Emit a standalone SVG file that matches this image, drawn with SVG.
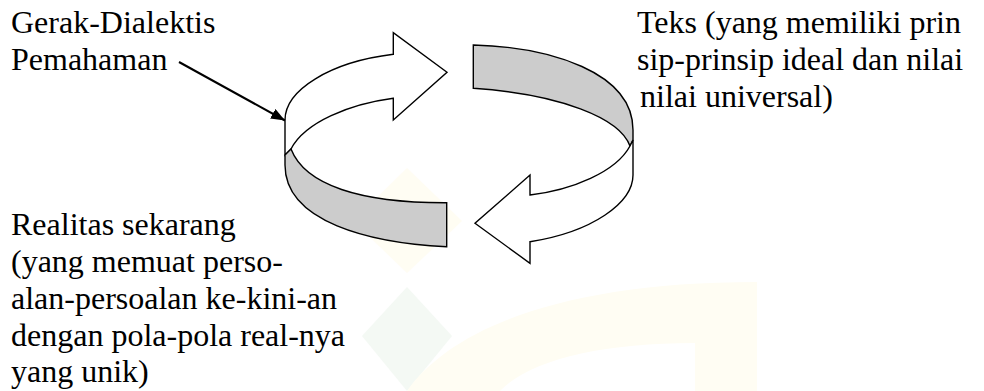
<svg xmlns="http://www.w3.org/2000/svg" width="984" height="391" viewBox="0 0 984 391">
  <style>
    .t { font-family: "Liberation Serif", "Times New Roman", serif; font-size: 32px; fill: #000; }
    .ribbon { stroke: #000; stroke-width: 1.4; stroke-linejoin: miter; }
    .face { fill: #fff; }
    .back { fill: #cccccc; }
    .wm-y { fill: #fffdf3; }
    .wm-g { fill: #f4f9f4; }
  </style>
  <defs>
    <marker id="head" markerUnits="userSpaceOnUse" markerWidth="15" markerHeight="12" refX="14" refY="5.5" orient="auto">
      <path d="M0,0 L14,5.5 L0,11 Z" fill="#000"/>
    </marker>
  </defs>

  <!-- faint background emblem -->
  <g id="emblem">
    <polygon class="wm-y" points="407,168 462,221 407,273 353,221"/>
    <polygon class="wm-g" points="407,287 452,336 407,391 362,336"/>
    <path class="wm-y" d="M407,391 C450,330 560,282 757,282 L757,391 L695,391 L695,343 C600,343 530,360 500,391 Z"/>
  </g>

  <!-- circular cycle: two white arrows and two grey back faces -->
  <g id="upper-arrow">
    <path class="ribbon face" d="M285,120 C285,90 330,62 393.3,54.3 L393.3,32.7 L447,72.3 L393.3,120 L393.3,98.3 C350,104 305,122 291,149 L285,155 Z"/>
  </g>
  <g id="lower-band">
    <path class="ribbon back" d="M291,149 C305,185 360,203 446.7,202.7 L446.7,246.7 C370,243 285,222 285,165 L285,155 Z"/>
  </g>
  <g id="upper-band">
    <path class="ribbon back" d="M630,146 C620,118 560,94 473.3,88.3 L473.3,45 C550,47 633,72 633,130 L633,140 Z"/>
  </g>
  <g id="lower-arrow">
    <path class="ribbon face" d="M633,175 C633,203 592,232 530,241.7 L530,263.3 L475,223.3 L530,175 L530,195 C572,190 616,172 630,146 L633,140 Z"/>
  </g>

  <!-- labels -->
  <g id="label-movement">
    <text class="t" x="11" y="33">Gerak-Dialektis</text>
    <text class="t" x="11" y="70">Pemahaman</text>
  </g>
  <g id="label-text">
    <text class="t" x="637" y="33">Teks (yang memiliki prin</text>
    <text class="t" x="637" y="70">sip-prinsip ideal dan nilai</text>
    <text class="t" x="640" y="107">nilai universal)</text>
  </g>
  <g id="label-reality">
    <text class="t" x="11" y="235">Realitas sekarang</text>
    <text class="t" x="11" y="272">(yang memuat perso-</text>
    <text class="t" x="11" y="308.5">alan-persoalan ke-kini-an</text>
    <text class="t" x="11" y="345.5">dengan pola-pola real-nya</text>
    <text class="t" x="11" y="382">yang unik)</text>
  </g>

  <!-- pointer from the label to the cycle -->
  <g id="connectors">
    <line x1="179" y1="62" x2="285" y2="120.5" stroke="#000" stroke-width="2" marker-end="url(#head)"/>
  </g>
</svg>
